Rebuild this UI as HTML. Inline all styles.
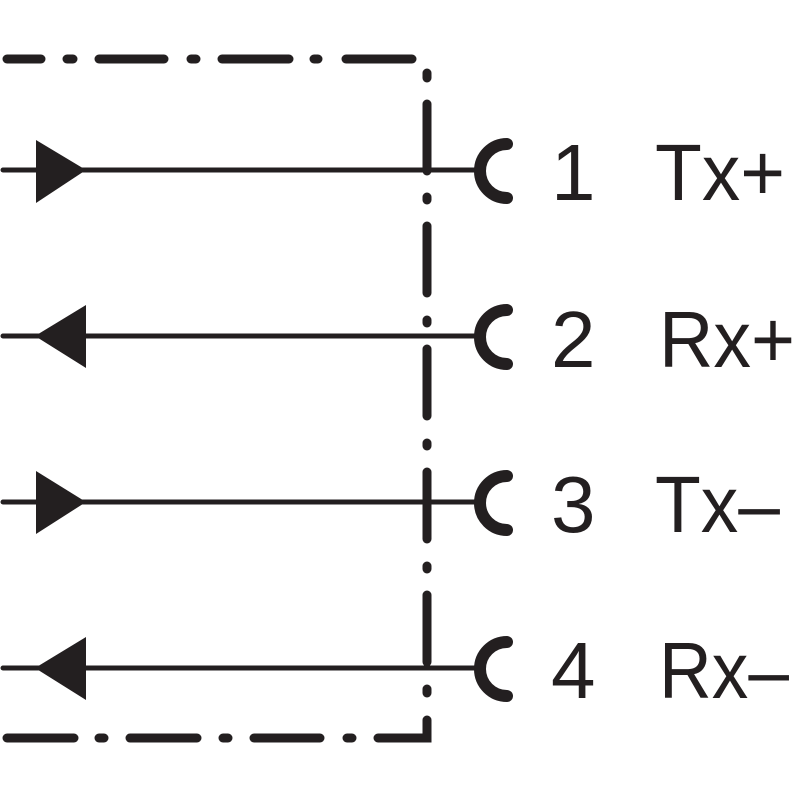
<!DOCTYPE html>
<html><head><style>html,body{margin:0;padding:0;background:#fff;}svg{display:block}</style></head>
<body>
<svg width="800" height="800" viewBox="0 0 800 800" xmlns="http://www.w3.org/2000/svg">
<g stroke="#231f20" stroke-linecap="round" fill="none">
<g stroke-width="9">
<line x1="7" y1="59" x2="41" y2="59"/>
<line x1="67" y1="59" x2="73" y2="59"/>
<line x1="99" y1="59" x2="164" y2="59"/>
<line x1="191" y1="59" x2="196" y2="59"/>
<line x1="222" y1="59" x2="289" y2="59"/>
<line x1="314" y1="59" x2="318" y2="59"/>
<line x1="346" y1="59" x2="412" y2="59"/>
<line x1="427" y1="73" x2="427" y2="78"/>
<line x1="427" y1="104" x2="427" y2="171"/>
<line x1="427" y1="197" x2="427" y2="200"/>
<line x1="427" y1="226" x2="427" y2="293"/>
<line x1="427" y1="320" x2="427" y2="323"/>
<line x1="427" y1="349" x2="427" y2="416"/>
<line x1="427" y1="443" x2="427" y2="446"/>
<line x1="427" y1="472" x2="427" y2="539"/>
<line x1="427" y1="566" x2="427" y2="569"/>
<line x1="427" y1="595" x2="427" y2="662"/>
<line x1="427" y1="689" x2="427" y2="693"/>
<polyline points="427,720 427,738 378,738" stroke-linejoin="miter"/>
<line x1="347" y1="738" x2="352" y2="738"/>
<line x1="254" y1="738" x2="320" y2="738"/>
<line x1="223" y1="738" x2="228" y2="738"/>
<line x1="130" y1="738" x2="197" y2="738"/>
<line x1="99" y1="738" x2="104" y2="738"/>
<line x1="7" y1="738" x2="74" y2="738"/>
</g>
<g stroke-width="5">
<line x1="3" y1="170" x2="478" y2="170"/>
<line x1="3" y1="336" x2="478" y2="336"/>
<line x1="3" y1="502" x2="478" y2="502"/>
<line x1="3" y1="668" x2="478" y2="668"/>
</g>
<g stroke-width="12">
<path d="M507,144 A27,27 0 0 0 507,198"/>
<path d="M507,310 A27,27 0 0 0 507,364"/>
<path d="M507,476 A27,27 0 0 0 507,530"/>
<path d="M507,642 A27,27 0 0 0 507,696"/>
</g>
</g>
<g fill="#231f20">
<polygon points="36,140 36,203 86,170"/>
<polygon points="86,305 86,368 35,336"/>
<polygon points="36,471 36,534 86,502"/>
<polygon points="86,637 86,700 35,668"/>
</g>
<g font-family="Liberation Sans, sans-serif" font-size="80" fill="#231f20">
<text x="551" y="200">1</text><text x="655" y="200" textLength="130" lengthAdjust="spacingAndGlyphs">Tx+</text>
<text x="551" y="367">2</text><text x="659" y="367" textLength="136" lengthAdjust="spacingAndGlyphs">Rx+</text>
<text x="551" y="532">3</text><text x="655" y="532" textLength="125" lengthAdjust="spacingAndGlyphs">Tx–</text>
<text x="551" y="698">4</text><text x="659" y="698" textLength="130" lengthAdjust="spacingAndGlyphs">Rx–</text>
</g>
</svg>
</body></html>
